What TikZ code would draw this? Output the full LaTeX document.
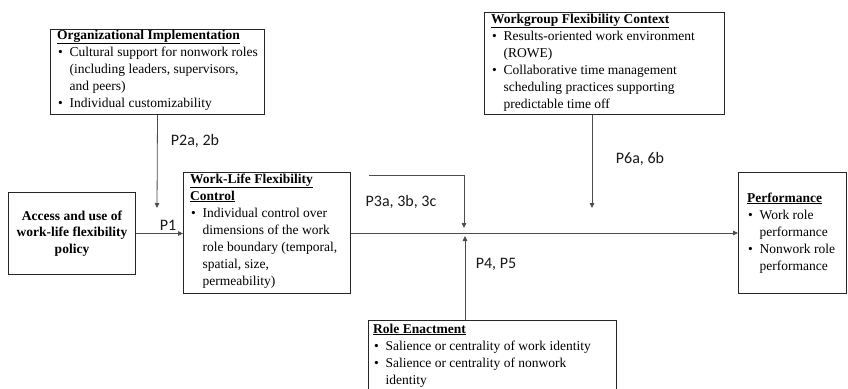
\documentclass[tikz,border=0pt]{standalone}
\usepackage{fontspec}
\setmainfont{Liberation Serif}
\newfontfamily\labfont{Carlito}
\usetikzlibrary{arrows.meta}
\newcommand{\hd}[1]{\underline{\textbf{#1}}}
\newcommand{\bu}{\makebox[12.5pt][l]{\hspace{1pt}\textbullet}}
\tikzset{
 box/.style={draw=black!85, line width=1pt, inner sep=0pt, anchor=north west},
 txt/.style={inner sep=0pt, anchor=north west, font=\fontsize{13.5}{17}\selectfont},
 lab/.style={font=\labfont\fontsize{16}{19}\selectfont, anchor=base, inner sep=0pt, text=black!90},
 conn/.style={draw=black!70, line width=0.8pt},
 arr/.style={conn, -{Triangle[length=5pt,width=4.5pt]}},
}
\begin{document}
\begin{tikzpicture}[x=1pt,y=-1pt]
\useasboundingbox[fill=white] (0,0) rectangle (848,388);
% boxes
\node[box, minimum width=214pt, minimum height=85pt] (org) at (50,29) {};
\node[txt] (orgt) at ([shift={(7,-2)}]org.north west) {\begin{tabular}{@{}l@{}l@{}}
\multicolumn{2}{@{}l@{}}{\hd{Organizational Implementation}}\\
\bu & Cultural support for nonwork roles\\
 & (including leaders, supervisors,\\
 & and peers)\\
\bu & Individual customizability
\end{tabular}};

\node[box, minimum width=240pt, minimum height=102pt] (wg) at (484,12) {};
\node[txt] (wgt) at ([shift={(7,-1)}]wg.north west) {\begin{tabular}{@{}l@{}l@{}}
\multicolumn{2}{@{}l@{}}{\hd{Workgroup Flexibility Context}}\\
\bu & Results-oriented work environment\\
 & (ROWE)\\
\bu & Collaborative time management\\
 & scheduling practices supporting\\
 & predictable time off
\end{tabular}};

\node[box, minimum width=127pt, minimum height=82pt, align=center, font=\bfseries\fontsize{13.5}{16.5}\selectfont] (acc) at (8,192) {Access and use of\\work-life flexibility\\policy};

\node[box, minimum width=167pt, minimum height=121pt] (wlfc) at (183,172) {};
\node[txt] (wlfct) at ([shift={(7,-1)}]wlfc.north west) {\begin{tabular}{@{}l@{}l@{}}
\multicolumn{2}{@{}l@{}}{\hd{Work-Life Flexibility}}\\
\multicolumn{2}{@{}l@{}}{\hd{Control}}\\
\bu & Individual control over\\
 & dimensions of the work\\
 & role boundary (temporal,\\
 & spatial, size,\\
 & permeability)
\end{tabular}};

\node[box, minimum width=108pt, minimum height=121pt] (perf) at (738,172) {};
\node[txt] (perft) at ([shift={(9,18)}]perf.north west) {\begin{tabular}{@{}l@{}l@{}}
\multicolumn{2}{@{}l@{}}{\hd{Performance}}\\
\bu & Work role\\
 & performance\\
\bu & Nonwork role\\
 & performance
\end{tabular}};

\node[box, minimum width=248pt, minimum height=72pt] (role) at (368,320) {};
\node[txt] (rolet) at ([shift={(5,1)}]role.north west) {\begin{tabular}{@{}l@{}l@{}}
\multicolumn{2}{@{}l@{}}{\hd{Role Enactment}}\\
\bu & Salience or centrality of work identity\\
\bu & Salience or centrality of nonwork\\
 & identity
\end{tabular}};

% labels
\node[lab] (l1) at (168,230) {P1};
\node[lab] (l2) at (195,145) {P2a, 2b};
\node[lab] (l3) at (401,206) {P3a, 3b, 3c};
\node[lab] (l4) at (496,268) {P4, P5};
\node[lab] (l6) at (640,163) {P6a, 6b};

% connectors
\coordinate (p2e) at (157,208);
\coordinate (p3s) at (369,175);
\coordinate (p3e) at (464,228);
\coordinate (p4e) at (465,236);
\coordinate (p6e) at (592,208);
\draw[arr] (org.south) -- (p2e);
\draw[arr] (acc.east) -- (acc.east -| wlfc.west);
\draw[arr] (wlfc.east) -- (wlfc.east -| perf.west);
\draw[arr] (p3s) -| (p3e);
\draw[arr] (role.north -| p4e) -- (p4e);
\draw[arr] (wg.south -| p6e) -- (p6e);
\end{tikzpicture}
\end{document}
